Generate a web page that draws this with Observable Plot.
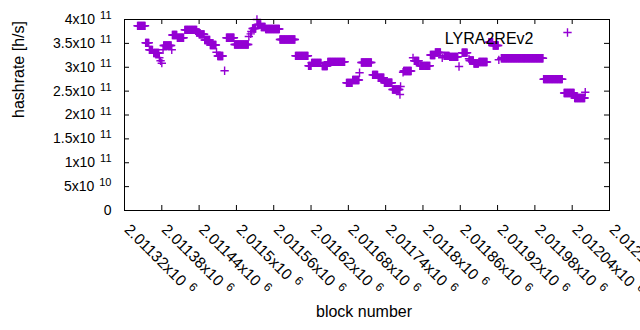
<!DOCTYPE html>
<html><head><meta charset="utf-8">
<script src="https://cdn.jsdelivr.net/npm/d3@7"></script>
<script src="https://cdn.jsdelivr.net/npm/@observablehq/plot@0.6"></script>
<style>
body{margin:0;background:#fff;}
svg{font-family:"Liberation Sans",Arial,sans-serif;}
</style>
</head><body><div id="chart"></div>
<script>
const seriesName = "LYRA2REv2";
const xTitle = "block number";
const yTitle = "hashrate [h/s]";
// runs of equal hashrate over consecutive blocks (start block, end block, hashrate)
const runStart = [2011341,2011354,2011360,2011367,2011376,2011378,2011380,2011382,2011383,2011396,
  2011397,2011405,2011417,2011436,2011440,2011449,2011458,2011468,2011470,2011481,
  2011484,2011497,2011520,2011523,2011524,2011526,2011533,2011534,2011540,2011547,
  2011570,2011595,2011616,2011621,2011638,2011647,2011677,2011687,2011698,2011701,
  2011719,2011728,2011738,2011751,2011763,2011764,2011768,2011769,2011784,2011786,
  2011795,2011812,2011820,2011831,2011834,2011843,2011858,2011863,2011874,2011875,
  2011882,2011890,2011906,2011913,2011922,2011926,2011994,2012027,2012044,2012061];
const runEnd = [2011353,2011359,2011365,2011375,2011376,2011378,2011380,2011382,2011395,2011396,
  2011404,2011415,2011436,2011440,2011448,2011457,2011467,2011468,2011478,2011481,
  2011496,2011519,2011520,2011523,2011524,2011531,2011533,2011539,2011546,2011569,
  2011594,2011615,2011620,2011636,2011646,2011674,2011686,2011697,2011698,2011717,
  2011727,2011737,2011750,2011762,2011763,2011764,2011768,2011781,2011784,2011793,
  2011811,2011819,2011828,2011831,2011842,2011856,2011858,2011871,2011874,2011881,
  2011889,2011903,2011912,2011921,2011922,2011993,2012024,2012043,2012060,2012061];
const runValue = [3.868e11,3.512e11,3.365e11,3.298e11,3.198e11,3.135e11,3.085e11,3.365e11,3.455e11,3.365e11,
  3.675e11,3.617e11,3.784e11,3.728e11,3.690e11,3.571e11,3.466e11,3.315e11,3.236e11,2.926e11,
  3.617e11,3.476e11,3.644e11,3.700e11,3.749e11,3.811e11,4.000e11,3.895e11,3.843e11,3.801e11,
  3.581e11,3.240e11,3.030e11,3.093e11,3.026e11,3.114e11,2.674e11,2.733e11,2.884e11,3.099e11,
  2.840e11,2.780e11,2.676e11,2.534e11,2.429e11,2.597e11,2.896e11,2.921e11,3.198e11,3.135e11,
  3.030e11,3.256e11,3.309e11,3.198e11,3.240e11,3.219e11,3.016e11,3.305e11,3.177e11,3.141e11,
  3.078e11,3.110e11,3.525e11,3.455e11,3.156e11,3.189e11,2.750e11,2.461e11,2.356e11,2.477e11];
const xTicks = [2011320,2011380,2011440,2011500,2011560,2011620,2011680,2011740,2011800,2011860,2011920,2011980,2012040,2012100];
const xTickLabels = ["2.01132x10^6","2.01138x10^6","2.01144x10^6","2.0115x10^6","2.01156x10^6","2.01162x10^6","2.01168x10^6",
  "2.01174x10^6","2.0118x10^6","2.01186x10^6","2.01192x10^6","2.01198x10^6","2.01204x10^6","2.0121x10^6"];
const yTicks = [0,5e10,1e11,1.5e11,2e11,2.5e11,3e11,3.5e11,4e11];
const yTickLabels = ["0","5x10^10","1x10^11","1.5x10^11","2x10^11","2.5x10^11","3x10^11","3.5x10^11","4x10^11"];

const points = [];
runStart.forEach((s, i) => { for (let b = s; b <= runEnd[i]; b++) points.push({block: b, hashrate: runValue[i]}); });

const W = 640, H = 330, ml = 124, mr = 31, mt = 19, mb = 120;
const fw = W - ml - mr, fh = H - mt - mb;
const color = "#9400d3";
const font = "'Liberation Sans', Arial, sans-serif";

const chart = Plot.plot({
  width: W, height: H, marginLeft: ml, marginRight: mr, marginTop: mt, marginBottom: mb,
  style: {fontFamily: font, fontSize: "14px", background: "white", color: "black", overflow: "visible"},
  x: {domain: [xTicks[0], xTicks[xTicks.length - 1]], axis: null},
  y: {domain: [yTicks[0], yTicks[yTicks.length - 1]], axis: null},
  marks: [
    Plot.dot(points, {x: "block", y: "hashrate", symbol: "plus", r: 2.8, stroke: color, strokeWidth: 1.4}),
    Plot.frame({stroke: "black", strokeWidth: 1}),
    Plot.tickY(yTicks, {y: d => d, insetRight: fw - 5, stroke: "black"}),
    Plot.tickY(yTicks, {y: d => d, insetLeft: fw - 5, stroke: "black"}),
    Plot.tickX(xTicks, {x: d => d, insetTop: fh - 5, stroke: "black"}),
    Plot.tickX(xTicks, {x: d => d, insetBottom: fh - 5, stroke: "black"}),
    Plot.text(yTicks, {y: d => d, text: (d, i) => yTickLabels[i], frameAnchor: "left", textAnchor: "end", dx: -13, fontSize: 14, fill: "black", className: "ylab"}),
    Plot.text(xTicks, {x: d => d, text: (d, i) => xTickLabels[i], frameAnchor: "bottom", textAnchor: "start", lineAnchor: "bottom", rotate: 45, dx: -1, dy: 20, fontSize: 15.5, fill: "black", className: "xlab"}),
    Plot.text([yTitle], {text: d => d, frameAnchor: "left", rotate: -90, dx: -106, dy: 3, fontSize: 16, fill: "black"}),
    Plot.text([xTitle], {text: d => d, frameAnchor: "bottom", dx: -3, dy: 106, fontSize: 16, fill: "black"}),
    Plot.text([seriesName], {text: d => d, frameAnchor: "top-right", textAnchor: "end", dx: -76, dy: 13, fontSize: 16, fill: "black"}),
    Plot.dot([seriesName], {frameAnchor: "top-right", dx: -42, dy: 13, symbol: "plus", r: 2.8, stroke: color, strokeWidth: 1.4})
  ]
});

// render exponent part as superscript
d3.select(chart).selectAll("text").each(function() {
  const t = this.textContent;
  if (t.includes("^")) {
    const isX = this.closest(".xlab") !== null;
    const [base, sup] = t.split("^");
    const sel = d3.select(this);
    sel.text(base);
    sel.append("tspan").attr("dx", isX ? 6 : 5).attr("dy", "-0.45em").attr("font-size", isX ? "12px" : "11px").text(sup);
  }
});
document.getElementById("chart").appendChild(chart);
</script>
</body></html>
